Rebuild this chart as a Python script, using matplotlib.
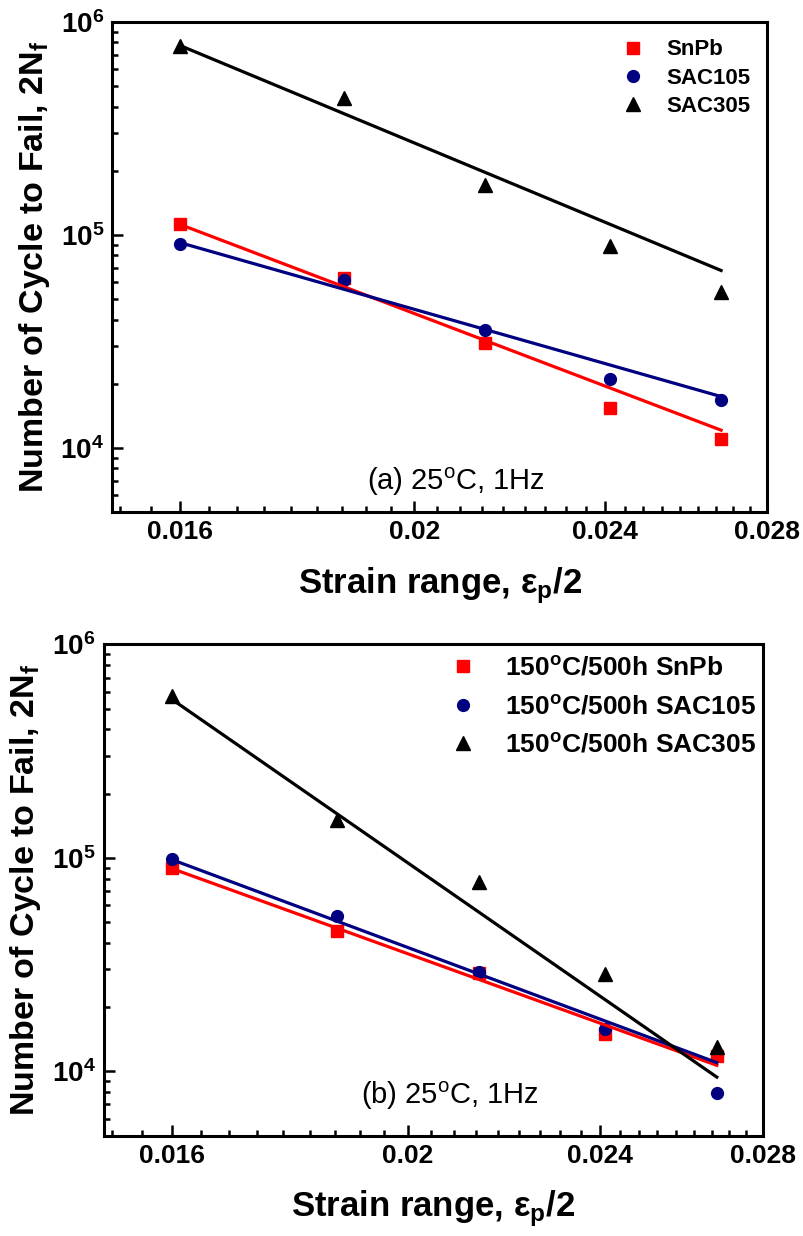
import numpy as np
import matplotlib
matplotlib.use("Agg")
import matplotlib.pyplot as plt
from matplotlib.ticker import FixedLocator, FixedFormatter, LogLocator, NullFormatter

plt.rcParams['font.family'] = ['Liberation Sans', 'DejaVu Sans']
plt.rcParams['mathtext.fontset'] = 'custom'
plt.rcParams['mathtext.rm'] = 'Liberation Sans'
plt.rcParams['mathtext.bf'] = 'Liberation Sans:bold'
plt.rcParams['mathtext.it'] = 'Liberation Sans:italic'

# ---------------- data ----------------
strain = [0.016, 0.0187, 0.0214, 0.0241, 0.0268]
fit_x = [0.016, 0.0268]

# panel (a)
a_snpb = [111800, 62500, 30900, 15400, 11000]
a_sac105 = [91000, 61400, 35800, 21100, 16700]
a_sac305 = [773000, 440000, 171000, 88700, 54000]
a_snpb_fit = [111800, 12100]
a_sac105_fit = [91800, 17400]
a_sac305_fit = [773000, 68000]

# panel (b)
b_snpb = [90100, 45500, 28800, 15000, 11800]
b_sac105 = [98900, 53500, 29100, 15700, 7900]
b_sac305 = [571000, 150000, 76700, 28500, 13000]
b_snpb_fit = [89000, 10660]
b_sac105_fit = [98000, 10980]
b_sac305_fit = [552000, 9390]

xticks = [0.016, 0.02, 0.024, 0.028]
xticklabels = ['0.016', '0.02', '0.024', '0.028']
yticks = [1e4, 1e5, 1e6]
yticklabels = [r'10$^{\mathbf{4}}$', r'10$^{\mathbf{5}}$', r'10$^{\mathbf{6}}$']

labels_a = ['SnPb', 'SAC105', 'SAC305']
labels_b = [r'150$^\mathbf{o}$C/500h SnPb', r'150$^\mathbf{o}$C/500h SAC105',
            r'150$^\mathbf{o}$C/500h SAC305']

RED = '#FF0000'
BLUE = '#000080'
BLACK = '#000000'

fig = plt.figure(figsize=(8.04, 12.36), dpi=100)
ax1 = fig.add_axes([0.1399, 0.5858, 0.8141, 0.3966])
ax2 = fig.add_axes([0.1294, 0.0813, 0.8197, 0.3973])


def style(ax):
    ax.set_xscale('log')
    ax.set_yscale('log')
    ax.set_xlim(0.015, 0.028)
    ax.set_ylim(5000, 1e6)
    ax.xaxis.set_major_locator(FixedLocator(xticks))
    ax.xaxis.set_major_formatter(FixedFormatter(xticklabels))
    step = 0.004 / 9
    minors = [0.016 + step * k for k in range(-2, 28) if k % 9 != 0]
    ax.xaxis.set_minor_locator(FixedLocator(minors))
    ax.xaxis.set_minor_formatter(NullFormatter())
    ax.yaxis.set_major_locator(FixedLocator(yticks))
    ax.yaxis.set_major_formatter(FixedFormatter(yticklabels))
    ax.yaxis.set_minor_locator(LogLocator(base=10, subs=np.arange(2, 10)))
    ax.yaxis.set_minor_formatter(NullFormatter())
    for s in ax.spines.values():
        s.set_linewidth(2.2)
    ax.tick_params(which='both', direction='in', top=False, right=False, width=1.8)
    ax.tick_params(which='major', length=8, pad=6)
    ax.tick_params(which='minor', length=4.5)
    for t in ax.get_xticklabels():
        t.set_fontsize(19)
        t.set_fontweight('bold')
    for t in ax.get_yticklabels():
        t.set_fontsize(20)
        t.set_fontweight('bold')
    ax.set_xlabel(r'Strain range, ε$_\mathbf{p}$/2', fontsize=25, fontweight='bold', labelpad=15)
    ax.set_ylabel(r'Number of Cycle to Fail, 2N$_\mathbf{f}$', fontsize=24.5, fontweight='bold', labelpad=6)


def panel(ax, snpb, sac105, sac305, f1, f2, f3, labels):
    ax.plot(strain, snpb, 's', color=RED, ms=8, ls='none', label=labels[0], zorder=3)
    ax.plot(strain, sac105, 'o', color=BLUE, ms=8.5, ls='none', label=labels[1], zorder=3)
    ax.plot(strain, sac305, '^', color=BLACK, ms=9.5, ls='none', label=labels[2], zorder=3)
    ax.plot(fit_x, f1, '-', color=RED, lw=2.3, zorder=4)
    ax.plot(fit_x, f2, '-', color=BLUE, lw=2.3, zorder=4)
    ax.plot(fit_x, f3, '-', color=BLACK, lw=2.3, zorder=4)


panel(ax1, a_snpb, a_sac105, a_sac305, a_snpb_fit, a_sac105_fit, a_sac305_fit, labels_a)
panel(ax2, b_snpb, b_sac105, b_sac305, b_snpb_fit, b_sac105_fit, b_sac305_fit, labels_b)
style(ax1)
style(ax2)

leg1 = ax1.legend(loc='upper left', bbox_to_anchor=(0.778, 0.964), frameon=False,
                  prop={'weight': 'bold', 'size': 16}, handlelength=1.0,
                  handletextpad=1.0, borderpad=0, borderaxespad=0, labelspacing=0.32)
leg2 = ax2.legend(loc='upper left', bbox_to_anchor=(0.524, 0.975), frameon=False,
                  prop={'weight': 'bold', 'size': 19}, handlelength=1.0,
                  handletextpad=1.1, borderpad=0, borderaxespad=0, labelspacing=0.54)

ax1.text(0.5255, 0.062, r'(a) 25$^\mathrm{o}$C, 1Hz', transform=ax1.transAxes,
         ha='center', va='center', fontsize=21)
ax2.text(0.525, 0.08, r'(b) 25$^\mathrm{o}$C, 1Hz', transform=ax2.transAxes,
         ha='center', va='center', fontsize=21)

fig.savefig('out.png', dpi=100)
